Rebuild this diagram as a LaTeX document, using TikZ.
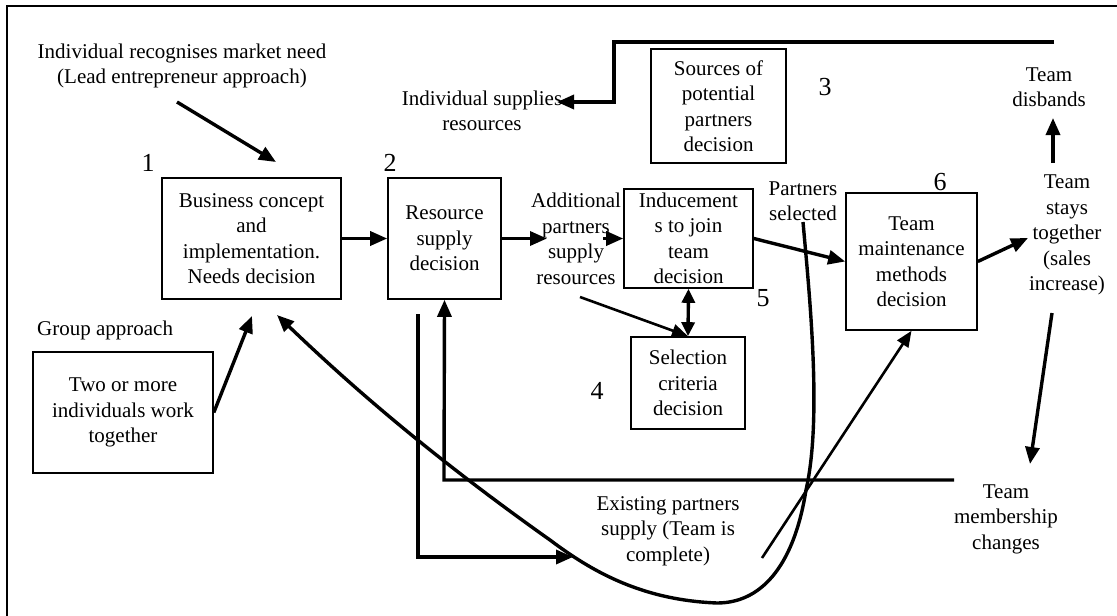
\documentclass[tikz,border=0pt]{standalone}
\usepackage{fontspec}
\setmainfont{Liberation Serif}
\usetikzlibrary{arrows.meta,calc}
\begin{document}
\begin{tikzpicture}[x=1pt,y=-1pt,
  every node/.style={font=\fontsize{21}{25.5}\selectfont, inner sep=0pt, align=center},
  box/.style={draw, line width=1.6pt},
  num/.style={font=\fontsize{26}{26}\selectfont},
  flow/.style={line width=3.4pt, -{Triangle[length=17pt,width=14pt]}},
  thinflow/.style={line width=2.6pt, -{Triangle[length=16pt,width=13pt]}},
  both/.style={line width=3.4pt, {Triangle[length=14pt,width=13pt]}-{Triangle[length=14pt,width=13pt]}}]
\useasboundingbox (0,0) rectangle (1117,616);
\fill[white] (0,0) rectangle (1117,616);

% frame
\draw[line width=2pt] (7,616) -- (7,6) -- (1117,6);

% decision boxes
\node[box, minimum width=179pt, minimum height=121pt] (bc) at (251.5,238.5)
  {Business concept\\and\\implementation.\\Needs decision};
\node[box, minimum width=113pt, minimum height=121pt] (rs) at (444.5,238.5)
  {Resource\\supply\\decision};
\node[box, minimum width=135pt, minimum height=114pt] (src) at (718.5,106)
  {Sources of\\potential\\partners\\decision};
\node[box, minimum width=129pt, minimum height=99pt] (ind) at (688.5,238.5)
  {Inducement\\s to join\\team\\decision};
\node[box, minimum width=114pt, minimum height=92pt] (sel) at (688,383)
  {Selection\\criteria\\decision};
\node[box, minimum width=131pt, minimum height=137pt] (tm) at (911.5,261.5)
  {Team\\maintenance\\methods\\decision};
\node[box, minimum width=180pt, minimum height=121pt] (two) at (123,412.5)
  {Two or more\\individuals work\\together};

% free labels
\node (lead) at (182,66) {Individual recognises market need\\(Lead entrepreneur approach)};
\node[anchor=west] (grp) at (37,330) {Group approach};
\node (isr) at (482,111) {Individual supplies\\resources};
\node (add) at (576,239) {Additional\\partners\\supply\\resources};
\node (psel) at (803,201) {Partners\\selected};
\node (dis) at (1049,87) {Team\\disbands};
\node (stay) at (1067,235) {Team\\stays\\together\\(sales\\increase)};
\node (chg) at (1006,519) {Team\\membership\\changes};
\node (exist) at (668,531) {Existing partners\\supply (Team is\\complete)};

% stage numbers
\node[num] (n1) at (148,163) {1};
\node[num] (n2) at (390,163) {2};
\node[num] (n3) at (825,87) {3};
\node[num] (n4) at (597,391) {4};
\node[num] (n5) at (763,298) {5};
\node[num] (n6) at (940,182) {6};

% connector end points
\coordinate (leadS) at (177,102);
\coordinate (leadT) at (276,162);
\coordinate (twoT) at (252,316);
\coordinate (loopT) at (277,315);
\coordinate (topR) at (1054,42);
\coordinate (topL) at (614,42);
\coordinate (topD) at (614,102);
\coordinate (isrT) at (557,102);
\coordinate (addL) at (547,238.5);
\coordinate (addR) at (603,238.5);
\coordinate (addS) at (580,297);
\coordinate (exS) at (762,558);
\coordinate (stayT) at (1028,238);
\coordinate (disS) at (1053,163);
\coordinate (disT) at (1053,118);
\coordinate (chgS) at (1052,313);
\coordinate (chgT) at (1030,464);
\coordinate (exTop) at (418,314);
\coordinate (exCorner) at (418,557);
\coordinate (exT) at (573,557);
\coordinate (retR) at (954,480);
\coordinate (retC) at (444,480);
\coordinate (pselS) at (803,222);

% connectors
\draw[flow] (leadS) -- (leadT);
\draw[flow] (two.east) -- (twoT);
\draw[flow] (bc.east) -- (rs.west);
\draw[flow] (rs.east) -- (addL);
\draw[flow] (addR) -- (ind.west);
\draw[thinflow] (addS) -- (sel.north);
\draw[both] (ind.south) -- (sel.north);
\draw[flow] (ind.east) -- (tm.west);
\draw[flow] (tm.east) -- (stayT);
\draw[flow] (disS) -- (disT);
\draw[flow] (chgS) -- (chgT);
\draw[flow] (topR) -- (topL) -- (topD) -- (isrT);
\draw[flow] (exTop) -- (exCorner) -- (exT);
\draw[flow] (retR) -- (retC) -- (rs.south);
\draw[thinflow] (exS) -- (tm.south);
\draw[flow] (pselS) .. controls (810,300) and (822,420) .. (806,490)
  .. controls (795,560) and (765,603) .. (717,603)
  .. controls (640,600) and (590,570) .. (550,540)
  .. controls (430,455) and (350,385) .. (loopT);
\end{tikzpicture}
\end{document}
